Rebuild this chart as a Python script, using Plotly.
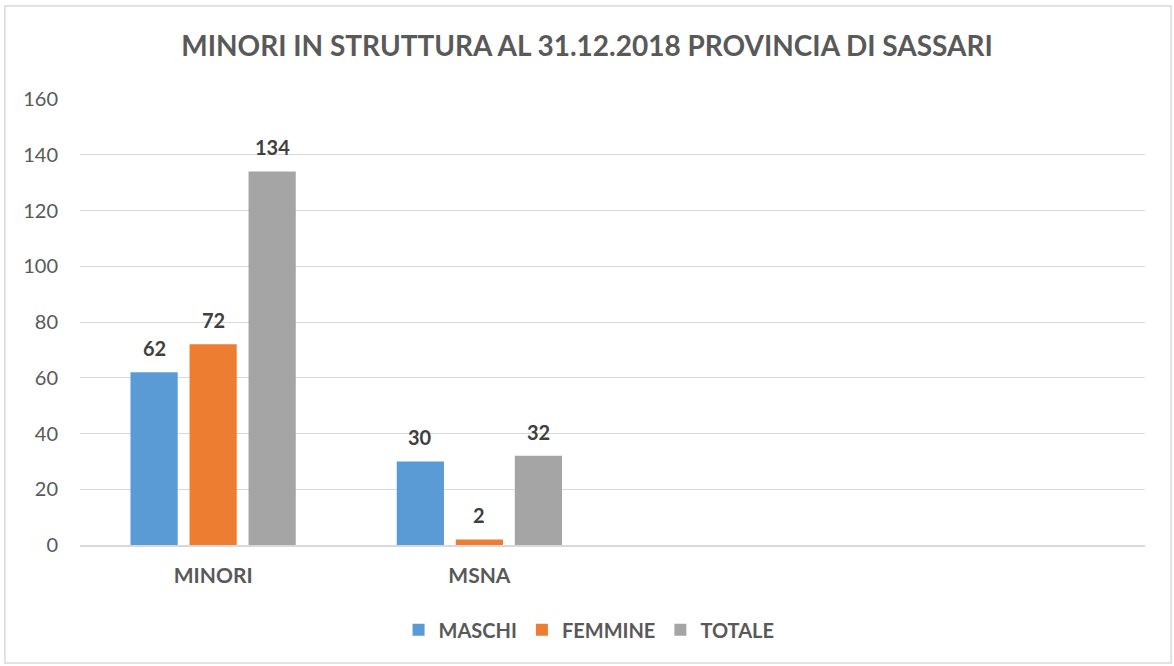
import plotly.graph_objects as go

categories = ["MINORI", "MSNA"]
maschi = [62, 30]
femmine = [72, 2]
totale = [134, 32]
series_names = ["MASCHI", "FEMMINE", "TOTALE"]
colors = ["#5B9BD5", "#ED7D31", "#A5A5A5"]
y_ticks = [0, 20, 40, 60, 80, 100, 120, 140, 160]

FONT = "Lato"
BARGAP = 0.335
GROUPGAP = 0.2

fig = go.Figure()
series_vals = [maschi, femmine, totale]
for name, vals, col in zip(series_names, series_vals, colors):
    fig.add_trace(go.Bar(
        x=categories, y=vals, name=name, marker_color=col,
        marker_line_width=0,
    ))

# data labels placed over each bar of the group
slot = (1 - BARGAP) / len(series_vals)
annotations = []
for k, vals in enumerate(series_vals):
    for i, v in enumerate(vals):
        annotations.append(dict(
            x=i + (k - (len(series_vals) - 1) / 2) * slot, y=v, xref="x", yref="y",
            text="<b>%d</b>" % v, showarrow=False, yanchor="bottom", yshift=10,
            font=dict(family=FONT, size=20, color="#404040"),
        ))

fig.update_layout(
    width=1174, height=666,
    margin=dict(l=80, r=29, t=99, b=121),
    paper_bgcolor="white", plot_bgcolor="white",
    barmode="group", bargap=BARGAP, bargroupgap=GROUPGAP,
    title=dict(text="<b>MINORI IN STRUTTURA AL 31.12.2018 PROVINCIA DI SASSARI</b>",
               x=0.5, xanchor="center", y=0.93, yanchor="middle",
               font=dict(family=FONT, size=28, color="#595959")),
    legend=dict(orientation="h", x=0.478, xanchor="center", y=-0.19, yanchor="middle",
                font=dict(family=FONT, size=20, color="#595959", weight="bold"),
                itemwidth=30, traceorder="normal"),
    xaxis=dict(type="category", categoryarray=categories, range=[-0.5, 3.5],
               showgrid=False, showline=True, linecolor="#d9d9d9", linewidth=1.5,
               ticks="", tickfont=dict(family=FONT, size=21, color="#595959", weight="bold"),
               ticklabelstandoff=11),
    yaxis=dict(range=[0, 160], tickvals=y_ticks, showgrid=True, gridcolor="#d9d9d9",
               gridwidth=1, zeroline=False, showline=False,
               tickfont=dict(family=FONT, size=20, color="#595959"),
               ticklabelstandoff=21),
    annotations=annotations,
    shapes=[dict(type="rect", xref="paper", yref="paper",
                 x0=-0.0705, x1=1.0245, y0=-0.2645, y1=1.2085,
                 line=dict(color="#d9d9d9", width=1.5), fillcolor="rgba(0,0,0,0)", layer="below")],
)
fig.write_html("out.html", config={"displayModeBar": False},
               post_script="document.body.style.margin='0';document.body.style.overflow='hidden';")
